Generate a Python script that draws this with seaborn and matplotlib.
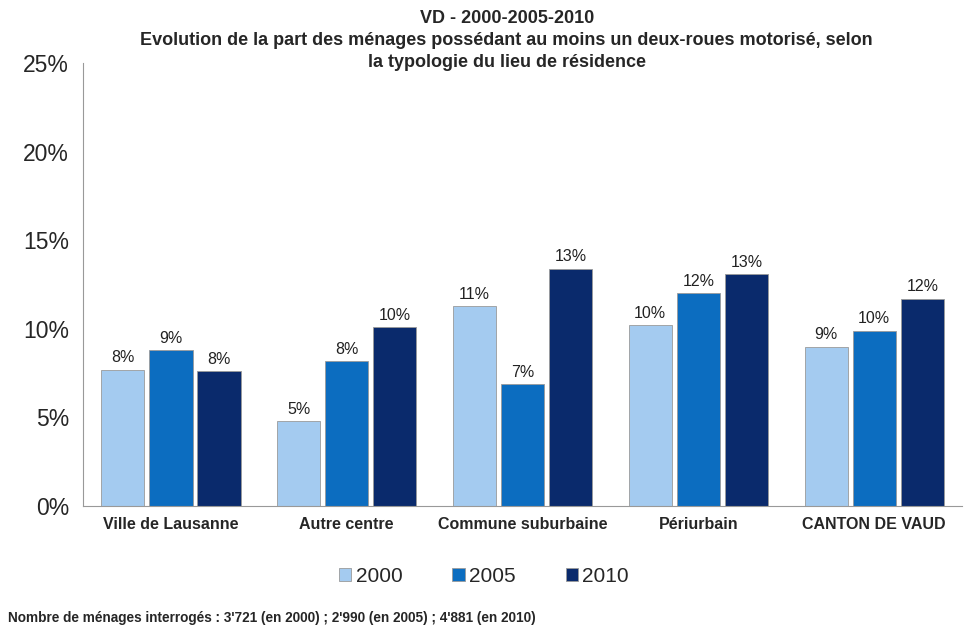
import numpy as np
import pandas as pd
import matplotlib
matplotlib.use("Agg")
import matplotlib.pyplot as plt
import seaborn as sns

# values (share of households, %)
categories = ["Ville de Lausanne", "Autre centre", "Commune suburbaine", "Périurbain", "CANTON DE VAUD"]
years = ["2000", "2005", "2010"]
v2000 = [7.7, 4.8, 11.3, 10.2, 9.0]
v2005 = [8.8, 8.2, 6.9, 12.0, 9.9]
v2010 = [7.6, 10.1, 13.4, 13.1, 11.7]
colors = ["#A4CBF0", "#0C6DC0", "#0A2A6C"]

title = ("VD - 2000-2005-2010\n"
         "Evolution de la part des ménages possédant au moins un deux-roues motorisé, selon\n"
         "la typologie du lieu de résidence")
footnote = "Nombre de ménages interrogés : 3'721 (en 2000) ; 2'990 (en 2005) ; 4'881 (en 2010)"

df = pd.DataFrame({
    "typo": categories * 3,
    "annee": [y for y in years for _ in categories],
    "part": v2000 + v2005 + v2010,
})

sns.set_style("white")
plt.rcParams["font.family"] = ["Liberation Sans", "DejaVu Sans"]

fig = plt.figure(figsize=(9.65, 6.35), dpi=100)
ax = fig.add_axes([0.086, 0.203, 0.911, 0.698])

sns.barplot(data=df, x="typo", y="part", hue="annee", palette=colors, saturation=1,
            width=0.82, gap=0.1, edgecolor="#9a9a9a", linewidth=0.6, ax=ax)

for cont in ax.containers:
    ax.bar_label(cont, labels=[f"{round(b.get_height())}%" for b in cont],
                 padding=3, fontsize=11.5, color="#222222")

ax.set_ylim(0, 25)
ax.set_xlim(-0.5, len(categories) - 0.5)
ax.set_yticks([0, 5, 10, 15, 20, 25])
ax.set_yticklabels([f"{t}%" for t in [0, 5, 10, 15, 20, 25]], fontsize=16.5)
ax.set_xticks(range(len(categories)))
ax.set_xticklabels(categories, fontsize=11.5, fontweight="bold")
ax.set_xticks(np.arange(-0.5, len(categories)), minor=True)
ax.tick_params(axis="x", which="major", length=0, pad=8)
ax.tick_params(axis="x", which="minor", length=5, color="#999999")
ax.tick_params(axis="y", length=4, color="#999999", pad=6)
ax.set_xlabel("")
ax.set_ylabel("")

sns.despine(ax=ax)
ax.spines["left"].set_color("#999999")
ax.spines["bottom"].set_color("#999999")

ax.legend(loc="center", bbox_to_anchor=(484 / 965, 1 - 576 / 635),
          bbox_transform=fig.transFigure, ncol=3, frameon=False,
          fontsize=15, handlelength=0.6, handleheight=0.6,
          handletextpad=0.2, columnspacing=2.4)

fig.text(0.525, 0.985, title, ha="center", va="top", fontsize=13,
         fontweight="bold", linespacing=1.4)
fig.text(0.008, 1 - 618 / 635, footnote, ha="left", va="center",
         fontsize=9.8, fontweight="bold")

fig.savefig("out.png", dpi=100, facecolor="white")
